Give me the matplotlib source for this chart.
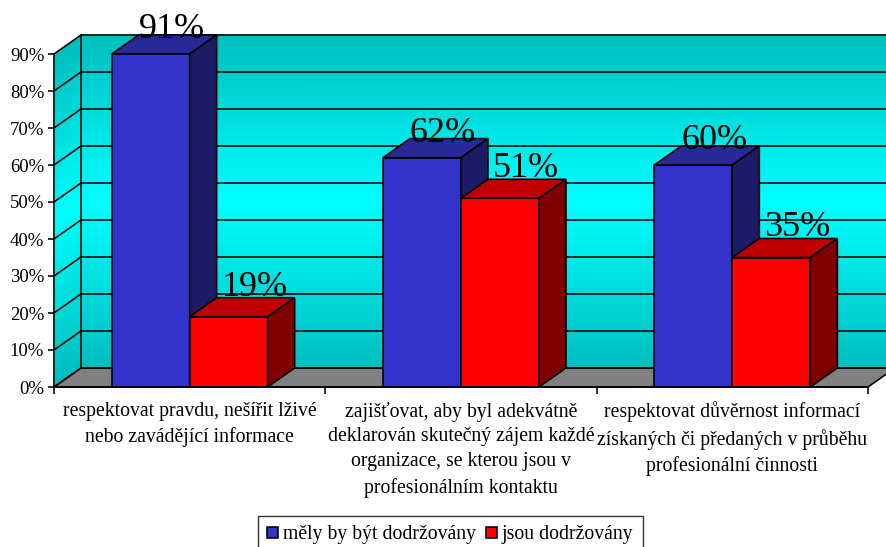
import matplotlib
matplotlib.use('Agg')
import numpy as np
import matplotlib.pyplot as plt
from matplotlib.colors import LinearSegmentedColormap
from matplotlib.patches import Patch, Polygon

plt.rcParams['font.family'] = ['Liberation Serif', 'DejaVu Serif']

categories = [
    'respektovat pravdu, nešířit lživé\nnebo zavádějící informace',
    'zajišťovat, aby byl adekvátně\ndeklarován skutečný zájem každé\norganizace, se kterou jsou v\nprofesionálním kontaktu',
    'respektovat důvěrnost informací\nzískaných či předaných v průběhu\nprofesionální činnosti',
]
should_be = [91, 62, 60]
actually = [19, 51, 35]
series_names = ['měly by být dodržovány', 'jsou dodržovány']
y_ticks = [0, 10, 20, 30, 40, 50, 60, 70, 80, 90]

W, H = 887, 547
fig = plt.figure(figsize=(W / 100, H / 100), dpi=100, facecolor='white')
ax = fig.add_axes([54 / W, (H - 387) / H, (868 - 54) / W, (387 - 54) / H])
ax.set_xlim(0, 3)
ax.set_ylim(0, 90)
ax.patch.set_visible(False)

# depth of the fake 3D box, in data units
dx = 27 / (814 / 3)
dy = 19 / (333 / 90)
bar_w = 78 / (814 / 3)
lw = 1.15

# walls
wall_cmap = LinearSegmentedColormap.from_list('wall', ['#00BDBD', '#00FFFF'])
shade = np.array([[0, 0], [1, 1], [0, 0]])
wall_y = np.array([0, 45, 90]) + dy
ax.pcolormesh([[dx, 3 + dx]] * 3, np.c_[wall_y, wall_y], shade, cmap=wall_cmap,
              shading='gouraud', zorder=1, clip_on=False)
ax.pcolormesh([[0, dx]] * 3, np.c_[wall_y - dy, wall_y], shade, cmap=wall_cmap,
              shading='gouraud', zorder=1, clip_on=False)
ax.add_patch(Polygon([(0, 0), (3, 0), (3 + dx, dy), (dx, dy)], closed=True, fc='#808080',
                     ec='black', lw=lw, zorder=2, clip_on=False))

# grid lines run along the side wall and the back wall
for v in y_ticks:
    ax.plot([0, dx, 3 + dx], [v, v + dy, v + dy], color='black', lw=lw, zorder=2,
            clip_on=False, solid_capstyle='butt')
ax.plot([dx, dx], [dy, 90 + dy], color='black', lw=lw, zorder=2, clip_on=False)


def draw_bar(x, value, front, top, side):
    ax.bar(x, value, width=bar_w, align='edge', color=front, edgecolor='black', lw=lw, zorder=3)
    h = min(value, 90)
    ax.add_patch(Polygon([(x, h), (x + dx, h + dy), (x + bar_w + dx, h + dy), (x + bar_w, h)],
                         closed=True, fc=top, ec='black', lw=lw, zorder=3, clip_on=False))
    ax.add_patch(Polygon([(x + bar_w, 0), (x + bar_w + dx, dy), (x + bar_w + dx, h + dy), (x + bar_w, h)],
                         closed=True, fc=side, ec='black', lw=lw, zorder=3, clip_on=False))


for i in range(3):
    centre = i + 0.5
    draw_bar(centre - bar_w, should_be[i], '#3333CC', '#282899', '#1C1C66')
    draw_bar(centre, actually[i], '#FF0000', '#BF0000', '#800000')
    ax.annotate(f'{should_be[i]}%', (centre - bar_w / 2, min(should_be[i], 90)), xytext=(21, 16),
                textcoords='offset pixels', ha='center', va='baseline', fontsize=26, zorder=5,
                annotation_clip=False)
    ax.annotate(f'{actually[i]}%', (centre + bar_w / 2, actually[i]), xytext=(26, 21),
                textcoords='offset pixels', ha='center', va='baseline', fontsize=26, zorder=5,
                annotation_clip=False)

for name in ['top', 'right']:
    ax.spines[name].set_visible(False)
for name in ['left', 'bottom']:
    ax.spines[name].set_linewidth(lw)
    ax.spines[name].set_zorder(4)

ax.set_yticks(y_ticks)
ax.set_yticklabels([f'{v}%' for v in y_ticks], fontsize=13.5)
ax.tick_params(axis='y', length=4, width=lw, pad=3)
ax.set_xticks([0, 1, 2, 3])
ax.set_xticklabels([])
ax.tick_params(axis='x', length=5, width=lw)
ax.set_xticks([0.5, 1.5, 2.5], minor=True)
ax.set_xticklabels(categories, minor=True, fontsize=14.2, linespacing=1.42)
ax.tick_params(axis='x', which='minor', length=0, pad=10.5)

handles = [Patch(fc='#3333CC', ec='black', lw=lw), Patch(fc='#FF0000', ec='black', lw=lw)]
fig.legend(handles, series_names, ncols=2, loc='upper left', bbox_to_anchor=(258 / W, (H - 516) / H),
           borderaxespad=0, fontsize=14.2, fancybox=False, framealpha=1, edgecolor='#333333',
           handlelength=0.55, handleheight=0.55, handletextpad=0.25, columnspacing=0.5,
           borderpad=0.48)

fig.savefig('out.png', dpi=100)
